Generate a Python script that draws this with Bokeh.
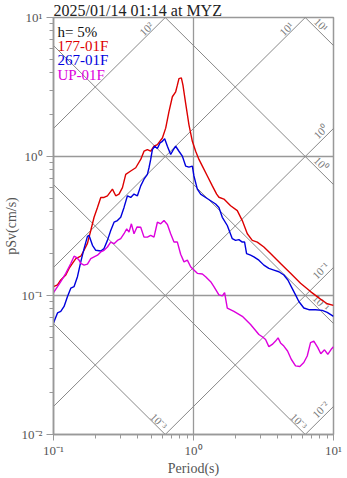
import math
from bokeh.plotting import figure
from bokeh.models import ColumnDataSource, CustomJSTickFormatter, FixedTicker
from bokeh.core.properties import value
from bokeh.embed import file_html
from bokeh.resources import INLINE

# ---------------- data ----------------
title_text = "2025/01/14 01:14 at MYZ"
damping_text = "h= 5%"
series_names = ["177-01F", "267-01F", "UP-01F"]
series_colors = ["#dd0000", "#0000dd", "#dd00dd"]

period_177 = [0.1, 0.1068, 0.1127, 0.1224, 0.1292, 0.1366, 0.1443, 0.1566, 0.1653, 0.1748,
              0.1846, 0.1949, 0.2061, 0.2176, 0.2296, 0.2428, 0.2636, 0.2783, 0.2938, 0.3108,
              0.3281, 0.3561, 0.3867, 0.4197, 0.4431, 0.4685, 0.4946, 0.5222, 0.5521, 0.5995,
              0.6329, 0.6680, 0.7064, 0.7459, 0.7669, 0.7873, 0.8189, 0.8407, 0.8790, 0.9280,
              0.9813, 1.036, 1.094, 1.157, 1.256, 1.363, 1.463, 1.519, 1.649, 1.841,
              2.055, 2.231, 2.423, 2.630, 2.855, 3.182, 3.551, 4.186, 4.934, 5.814,
              6.854, 8.076, 9.016, 10.0]
psv_177 = [0.1159, 0.1191, 0.1293, 0.1404, 0.1567, 0.1700, 0.1845, 0.1917, 0.2115, 0.2373,
           0.2937, 0.3653, 0.4303, 0.5072, 0.5072, 0.5215, 0.5821, 0.5215, 0.5363, 0.5977,
           0.7446, 0.7863, 0.8299, 0.9524, 1.091, 1.122, 1.091, 1.185, 1.218, 1.358,
           1.600, 2.104, 2.691, 2.921, 3.261, 3.634, 3.676, 3.261, 2.411, 1.691,
           1.286, 1.091, 0.9524, 0.8534, 0.7243, 0.6145, 0.5363, 0.5089, 0.4941, 0.4426,
           0.4076, 0.3460, 0.2782, 0.2492, 0.2423, 0.2233, 0.2003, 0.1700, 0.1443, 0.1225,
           0.1067, 0.09421, 0.08721, 0.08481]

period_267 = [0.1, 0.1068, 0.1127, 0.1190, 0.1259, 0.1329, 0.1403, 0.1483, 0.1566, 0.1653,
              0.1748, 0.1795, 0.1898, 0.2004, 0.2176, 0.2296, 0.2428, 0.2563, 0.2707, 0.2862,
              0.3021, 0.3190, 0.3373, 0.3561, 0.3759, 0.3975, 0.4197, 0.4431, 0.4685, 0.4810,
              0.4946, 0.5085, 0.5281, 0.5521, 0.5763, 0.5995, 0.6225, 0.6509, 0.6869, 0.7181,
              0.7459, 0.7873, 0.8325, 0.8790, 0.9280, 0.9813, 1.007, 1.065, 1.125, 1.221,
              1.326, 1.439, 1.519, 1.606, 1.743, 1.893, 1.998, 2.110, 2.231, 2.317,
              2.394, 2.557, 2.700, 2.931, 3.182, 3.454, 3.750, 4.072, 4.419, 4.720,
              4.991, 5.356, 5.655, 6.138, 6.664, 7.439, 8.305, 9.016, 10.0]
psv_267 = [0.06353, 0.07486, 0.07685, 0.08342, 0.09831, 0.1129, 0.1159, 0.1365, 0.1746, 0.2175,
           0.2661, 0.2705, 0.2296, 0.2115, 0.2091, 0.2175, 0.2492, 0.2937, 0.3366, 0.3460,
           0.3653, 0.4303, 0.5215, 0.5072, 0.5363, 0.5215, 0.6145, 0.6863, 0.7446, 0.8299,
           0.9524, 1.122, 1.185, 1.141, 1.251, 1.286, 1.344, 1.185, 1.034, 1.122,
           1.185, 1.091, 1.006, 0.8534, 0.8395, 0.8534, 0.7243, 0.5821, 0.5363, 0.5072,
           0.4805, 0.4550, 0.4303, 0.3653, 0.3188, 0.2563, 0.2492, 0.2521, 0.2423, 0.2423,
           0.2003, 0.1949, 0.1896, 0.1795, 0.1654, 0.1567, 0.1524, 0.1482, 0.1404, 0.1293,
           0.1159, 0.1011, 0.09057, 0.08126, 0.07903, 0.07903, 0.07813, 0.07561, 0.07082]

period_up = [0.1, 0.1068, 0.1127, 0.1224, 0.1329, 0.1403, 0.1466, 0.1523, 0.1566, 0.1653,
             0.1748, 0.1846, 0.1949, 0.2061, 0.2176, 0.2296, 0.2428, 0.2563, 0.2707, 0.2862,
             0.3021, 0.3190, 0.3334, 0.3462, 0.3601, 0.3759, 0.3949, 0.4197, 0.4431, 0.4685,
             0.4946, 0.5222, 0.5521, 0.5831, 0.6155, 0.6509, 0.6869, 0.7253, 0.7669, 0.8096,
             0.8551, 0.9040, 0.9541, 1.007, 1.065, 1.157, 1.221, 1.326, 1.399, 1.519,
             1.606, 1.668, 1.743, 1.944, 2.231, 2.557, 2.931, 3.099, 3.272, 3.454,
             3.651, 3.856, 4.018, 4.186, 4.419, 4.696, 4.991, 5.356, 5.747, 6.138,
             6.491, 6.854, 7.235, 7.726, 8.116, 8.623, 9.106, 9.627, 10.0]
psv_up = [0.1050, 0.1159, 0.1258, 0.1443, 0.1700, 0.1917, 0.1876, 0.1795, 0.1700, 0.1654,
          0.1681, 0.1845, 0.1896, 0.1949, 0.2057, 0.2115, 0.2233, 0.2423, 0.2361, 0.2492,
          0.2563, 0.2782, 0.3020, 0.2855, 0.3279, 0.2782, 0.3111, 0.3100, 0.2631, 0.2631,
          0.2705, 0.2631, 0.3366, 0.3279, 0.3460, 0.3241, 0.2782, 0.2423, 0.2423, 0.1981,
          0.1746, 0.1795, 0.1609, 0.1524, 0.1443, 0.1427, 0.1365, 0.1258, 0.1159, 0.1011,
          0.09945, 0.1050, 0.08126, 0.07685, 0.07082, 0.06178, 0.05245, 0.05050, 0.04831, 0.04285,
          0.04450, 0.04699, 0.04951, 0.04561, 0.04327, 0.03988, 0.03478, 0.03118, 0.03087, 0.03296,
          0.03673, 0.04576, 0.04699, 0.04215, 0.03808, 0.04066, 0.03777, 0.04100, 0.04285]

# tripartite guide lines: displacement (cm) and acceleration (cm/s^2)
disp_values = [1e-3, 1e-2, 1e-1, 1.0, 10.0]
disp_labels = ["10\u207b\u00b3", "10\u207b\u00b3", "10\u207b\u00b9", "10\u2070", "10\u00b9"]
acc_values = [1e-2, 1e-1, 1.0, 10.0, 100.0]
acc_labels = ["10\u207b\u00b2", "10\u207b\u00b9", "10\u2070", "10\u00b9", "10\u00b2"]

x_major = [0.1, 1.0, 10.0]
y_major = [0.01, 0.1, 1.0, 10.0]

T_MIN, T_MAX = 0.1, 10.0
SV_MIN, SV_MAX = 0.01, 10.0

SERIF = "Liberation Serif"
GRAY = "#999999"

p = figure(width=347, height=478,
           x_axis_type="log", y_axis_type="log",
           x_range=(T_MIN, T_MAX), y_range=(SV_MIN, SV_MAX),
           output_backend="svg", toolbar_location=None,
           min_border_left=53, min_border_right=14, min_border_top=0, min_border_bottom=0)
p.background_fill_color = "white"
p.border_fill_color = "white"
p.outline_line_color = GRAY
p.outline_line_width = 1.5

p.title.text = title_text
p.title.text_font = SERIF
p.title.text_font_size = "16px"
p.title.text_font_style = "normal"
p.title.text_color = "#222222"
p.title.align = "left"
p.title.standoff = -2

def minors(lo, hi):
    return [m * 10.0 ** e for e in range(lo, hi) for m in range(2, 10)]

p.xaxis.ticker = FixedTicker(ticks=x_major, minor_ticks=minors(-1, 1))
p.yaxis.ticker = FixedTicker(ticks=y_major, minor_ticks=minors(-2, 1))
p.xgrid.ticker = FixedTicker(ticks=[1.0])
p.ygrid.ticker = FixedTicker(ticks=[0.1, 1.0])
for g in (p.xgrid, p.ygrid):
    g.grid_line_color = GRAY
    g.grid_line_width = 1.3

fmt = CustomJSTickFormatter(code="""
const e = Math.round(Math.log10(tick));
const m = {"-": "\u207b", "0": "\u2070", "1": "\u00b9", "2": "\u00b2", "3": "\u00b3"};
return "10" + String(e).split("").map((c) => m[c]).join("");
""")
for ax in (p.xaxis[0], p.yaxis[0]):
    ax.formatter = fmt
    ax.axis_line_color = GRAY
    ax.axis_line_width = 1.5
    ax.major_tick_line_color = GRAY
    ax.minor_tick_line_color = GRAY
    ax.major_tick_in = 0
    ax.minor_tick_in = 0
    ax.minor_tick_out = 4
    ax.major_label_text_font = SERIF
    ax.major_label_text_font_size = "13px"
    ax.major_label_text_color = "#555555"
    ax.axis_label_text_font = SERIF
    ax.axis_label_text_font_size = "14px"
    ax.axis_label_text_font_style = "normal"
    ax.axis_label_text_color = "#555555"
p.xaxis.major_tick_out = 6
p.xaxis.major_label_standoff = 2
p.xaxis.axis_label_standoff = 0
p.yaxis.major_tick_out = 7
p.yaxis.major_label_standoff = 4
p.yaxis.axis_label_standoff = 0
p.xaxis.axis_label = "Period(s)"
p.yaxis.axis_label = "pSv(cm/s)"

# guide lines
TW = 2 * math.pi
for d in disp_values:
    ts = [0.01, 100.0]
    p.line(ts, [TW * d / t for t in ts], line_color="#888888", line_width=1)
for a in acc_values:
    ts = [0.01, 100.0]
    p.line(ts, [a * t / TW for t in ts], line_color="#888888", line_width=1)

# guide labels near the end of each line inside the frame
lx, ly, lt, la = [], [], [], []
for d, txt in zip(disp_values, disp_labels):
    sv_right = TW * d / T_MAX
    if sv_right >= SV_MIN:
        lt0, ls0 = math.log10(T_MAX), math.log10(sv_right)
        dx, dy = -0.088, 0.15
    else:
        lt0, ls0 = math.log10(TW * d / SV_MIN), math.log10(SV_MIN)
        dx, dy = -0.046, 0.095
    lx.append(10 ** (lt0 + dx)); ly.append(10 ** (ls0 + dy)); lt.append(txt); la.append(-math.pi / 4)
for a, txt in zip(acc_values, acc_labels):
    sv_right = a * T_MAX / TW
    if sv_right <= SV_MAX:
        lt0, ls0 = math.log10(T_MAX), math.log10(sv_right)
        dx, dy = -0.092, -0.023
    else:
        lt0, ls0 = math.log10(TW * SV_MAX / a), math.log10(SV_MAX)
        dx, dy = -0.135, -0.082
    lx.append(10 ** (lt0 + dx)); ly.append(10 ** (ls0 + dy)); lt.append(txt); la.append(math.pi / 4)

p.text(x="x", y="y", text="t", angle="a",
       source=ColumnDataSource(dict(x=lx, y=ly, t=lt, a=la)),
       text_font=value(SERIF), text_font_size="11px", text_color="#777777",
       text_align="center", text_baseline="middle")

# spectra
for per, sv, col in zip([period_177, period_267, period_up],
                        [psv_177, psv_267, psv_up], series_colors):
    p.line(per, sv, line_color=col, line_width=1.4)

# legend texts (inside the frame, top-left), rows placed in log space
leg_texts = [damping_text] + series_names
leg_colors = ["#111111"] + series_colors
row_dec = 0.102   # one text row in decades of pSv
leg_x = [10 ** (math.log10(T_MIN) + 0.028)] * len(leg_texts)
leg_y = [10 ** (math.log10(SV_MAX) - 0.105 - row_dec * i) for i in range(len(leg_texts))]
p.text(x="x", y="y", text="t", text_color="c",
       source=ColumnDataSource(dict(x=leg_x, y=leg_y, t=leg_texts, c=leg_colors)),
       text_font=value(SERIF), text_font_size="15px",
       text_align="left", text_baseline="alphabetic")

open("out.html", "w").write(file_html(p, INLINE))
